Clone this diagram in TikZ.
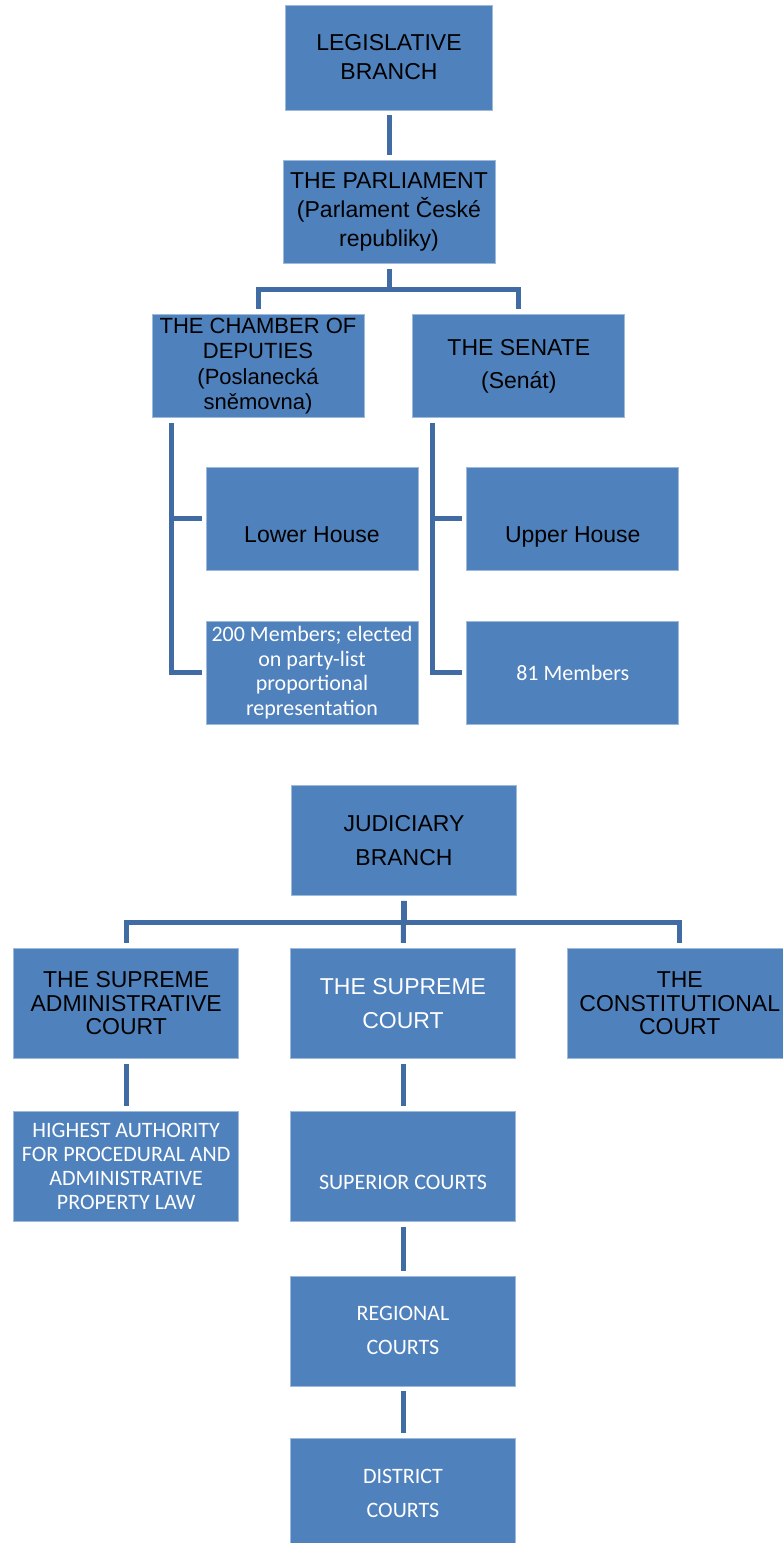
\documentclass[tikz,border=0pt]{standalone}
\usepackage{fontspec}
\setmainfont{Liberation Sans}
\newfontfamily\calibri{Carlito}
\usetikzlibrary{positioning,calc}

\definecolor{boxblue}{HTML}{4F81BD}
\definecolor{lineblue}{HTML}{406CA3}

\begin{document}
\begin{tikzpicture}[
    x=1pt, y=1pt,
    node distance=50pt and 48pt,
    legbox/.style={rectangle, draw=boxblue!55!white, line width=0.8pt, fill=boxblue, minimum width=212pt, minimum height=103pt, inner sep=0pt, align=center, font=\fontsize{23}{29}\selectfont},
    whitebox/.style={legbox, text=white, font=\calibri\fontsize{22}{24.5}\selectfont},
    judbox/.style={legbox, minimum width=225pt, minimum height=110pt, font=\fontsize{23}{34}\selectfont},
    courtbox/.style={judbox, text=white, font=\calibri\fontsize{22}{24}\selectfont},
    lowered/.style={text height=47pt, text depth=0pt},
    conn/.style={draw=lineblue, line width=5pt, shorten <=5pt, shorten >=5pt},
]
    \useasboundingbox (0,0) rectangle (783,-1543);

    % legislative branch
    \node[legbox, minimum width=207pt, minimum height=105pt] (leg) at (389,-57.5) {LEGISLATIVE\\BRANCH};
    \node[legbox, below=of leg] (parl) {THE PARLIAMENT\\(Parlament České\\republiky)};
    \node[legbox, below=of parl, xshift=-131pt, font=\fontsize{22}{25.5}\selectfont] (chamber) {THE CHAMBER OF\\DEPUTIES\\(Poslanecká\\sněmovna)};
    \node[legbox, right=of chamber, font=\fontsize{23}{33}\selectfont] (senate) {THE SENATE\\(Senát)};
    \node[legbox, lowered, below=49pt of chamber, xshift=54pt] (lower) {Lower House};
    \node[whitebox, below=50pt of lower] (m200) {200 Members; elected\\on party-list\\proportional\\representation};
    \node[legbox, lowered, below=49pt of senate, xshift=54pt] (upper) {Upper House};
    \node[whitebox, below=50pt of upper] (m81) {81 Members};

    \draw[conn] (leg) -- (parl);
    \draw[conn] (parl.south) -- ++(0,-25) -| (chamber.north);
    \draw[conn] (parl.south) -- ++(0,-25) -| (senate.north);
    \draw[conn, shorten >=4pt] ([xshift=20pt]chamber.south west) |- (lower.west);
    \draw[conn, shorten >=4pt] ([xshift=20pt]chamber.south west) |- (m200.west);
    \draw[conn, shorten >=4pt] ([xshift=20pt]senate.south west) |- (upper.west);
    \draw[conn, shorten >=4pt] ([xshift=20pt]senate.south west) |- (m81.west);

    % judiciary branch
    \node[judbox] (jud) at (404,-840.5) {JUDICIARY\\BRANCH};
    \node[judbox, below=52pt of jud, xshift=-1pt] (sup) {\textcolor{white}{THE SUPREME}\\\textcolor{white}{COURT}};
    \node[judbox, left=51pt of sup, font=\fontsize{23}{23.5}\selectfont] (adm) {THE SUPREME\\ADMINISTRATIVE\\COURT};
    \node[judbox, right=51pt of sup, font=\fontsize{23}{23.5}\selectfont] (con) {THE\\CONSTITUTIONAL\\COURT};
    \node[courtbox, below=52pt of adm] (high) {HIGHEST AUTHORITY\\FOR PROCEDURAL AND\\ADMINISTRATIVE\\PROPERTY LAW};
    \node[courtbox, lowered, below=52pt of sup] (superior) {SUPERIOR COURTS};
    \node[courtbox, below=54pt of superior, font=\calibri\fontsize{22}{34}\selectfont] (regional) {REGIONAL\\COURTS};
    \node[courtbox, below=52pt of regional, font=\calibri\fontsize{22}{34}\selectfont] (district) {DISTRICT\\COURTS};

    \draw[conn] (jud.south) -- ++(0,-26.5) -| (adm.north);
    \draw[conn] (jud.south) -- ++(0,-26.5) -| (con.north);
    \draw[conn] (jud) -- (sup);
    \draw[conn] (adm) -- (high);
    \draw[conn] (sup) -- (superior);
    \draw[conn] (superior) -- (regional);
    \draw[conn] (regional) -- (district);
\end{tikzpicture}
\end{document}
